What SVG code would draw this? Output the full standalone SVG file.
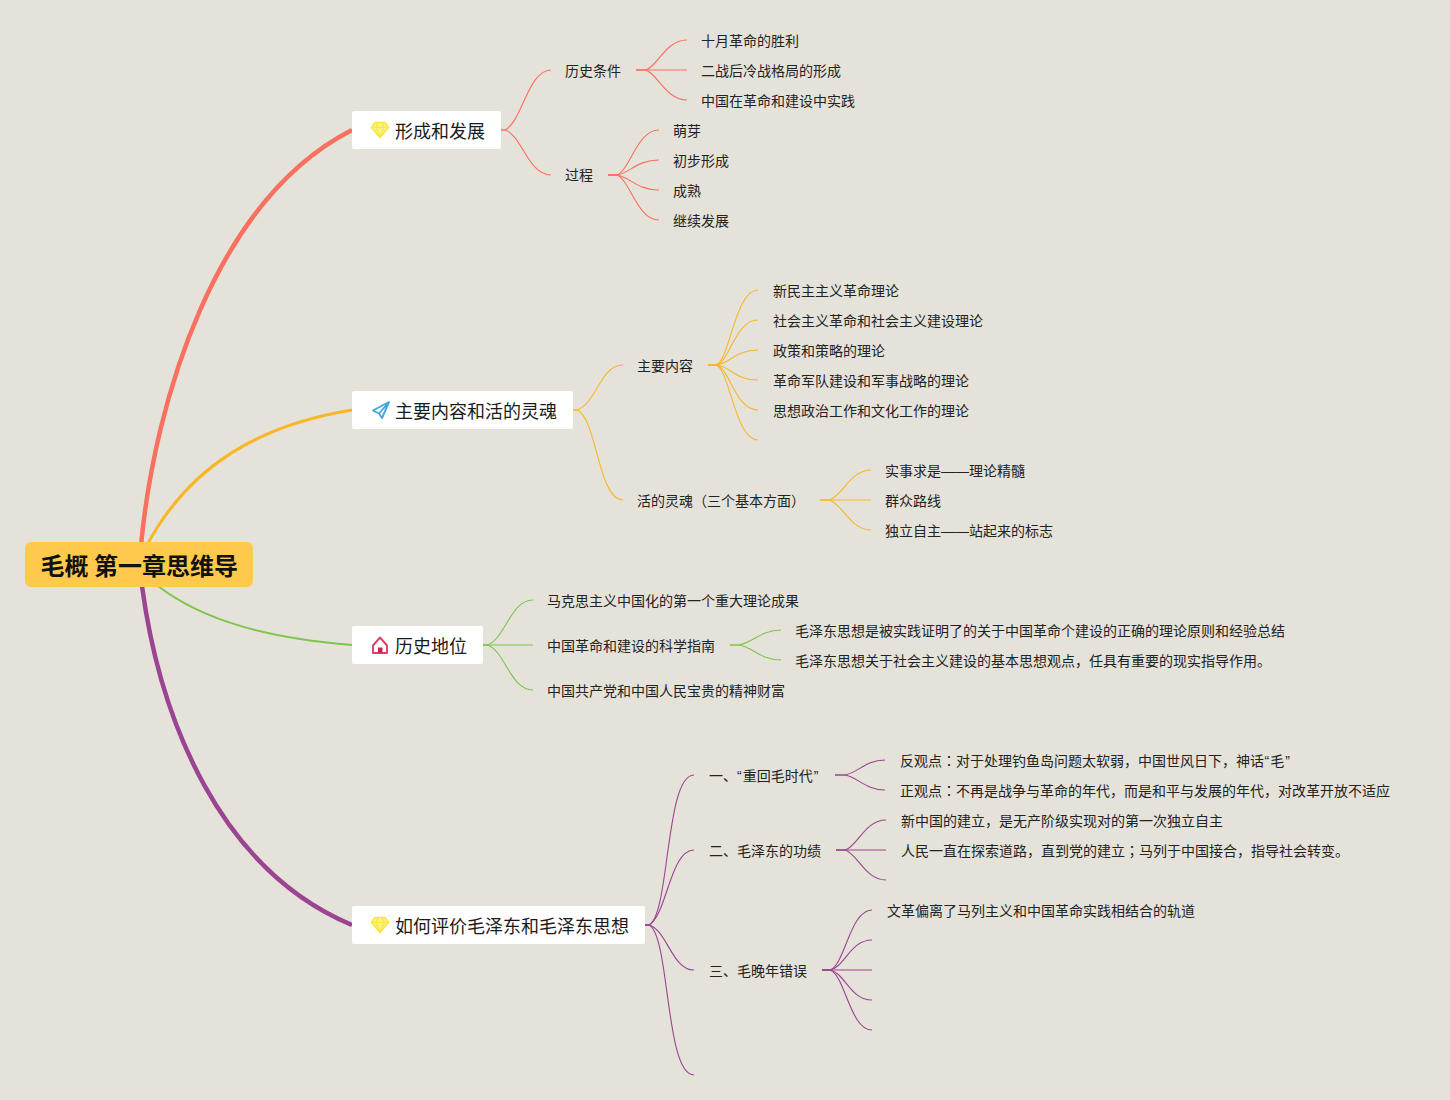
<svg xmlns="http://www.w3.org/2000/svg" width="1450" height="1100" viewBox="0 0 1450 1100">
<style>
text{font-family:"Noto Sans CJK SC","Liberation Sans",sans-serif;fill:#222;font-size:14px}
.m{font-size:18px;fill:#1a1a1a}
.c{font-size:24px;font-weight:700;fill:#111}
.box{fill:#fff}
.l{fill:none;stroke-width:1.1}
.r{stroke:#F8705F}.y{stroke:#F9B628}.g{stroke:#7DC44F}.p{stroke:#9A4492}
.q{font-family:"Liberation Sans",sans-serif}
.t{font-family:"Noto Sans CJK TC",sans-serif}
.gem{fill:#FBF08A;stroke:#F8E73C;stroke-width:1.6;stroke-linejoin:round}
.gemf{fill:none;stroke:#F8E73C;stroke-width:1.1}
</style>
<rect width="1450" height="1100" fill="#E5E2DA"/>
<g id="connectors">
<path d="M141 545C155 400 215 200 352 130" fill="none" stroke="#F8705F" stroke-width="4.5"/>
<path d="M147 545C190 465 260 425 352 410" fill="none" stroke="#F9B628" stroke-width="3"/>
<path d="M158 586C205 622 270 638 352 645" fill="none" stroke="#7DC44F" stroke-width="2"/>
<path d="M142 586C160 720 220 870 352 925" fill="none" stroke="#9A4492" stroke-width="4.5"/>
<g class="l r">
<path d="M501 130H505C522 122 528 70 551 70"/><path d="M501 130H505C522 135 528 175 551 175"/>
<path d="M636 70H645C657 68 665 40 687 40"/><path d="M636 70H687"/><path d="M636 70H645C657 72 665 100 687 100"/>
<path d="M608 175H617C630 170 637 130 659 130"/><path d="M608 175H617C630 173 637 160 659 160"/><path d="M608 175H617C630 177 637 190 659 190"/><path d="M608 175H617C630 180 637 220 659 220"/>
</g>
<g class="l y">
<path d="M573 410H577C597 403 600 365 623 365"/><path d="M573 410H577C597 418 598 500 623 500"/>
<path d="M708 365H716C730 360 735 290 758 290"/><path d="M708 365H716C730 362 735 320 758 320"/><path d="M708 365H716C730 364 735 350 758 350"/><path d="M708 365H716C730 366 735 380 758 380"/><path d="M708 365H716C730 368 735 410 758 410"/><path d="M708 365H716C730 370 735 440 758 440"/>
<path d="M820 500H829C842 497 850 470 871 470"/><path d="M820 500H871"/><path d="M820 500H829C842 503 850 530 871 530"/>
</g>
<g class="l g">
<path d="M483 645H487C505 640 510 600 533 600"/><path d="M483 645H533"/><path d="M483 645H487C505 650 510 690 533 690"/>
<path d="M730 645H738C752 644 760 630 781 630"/><path d="M730 645H738C752 646 760 660 781 660"/>
</g>
<g class="l p">
<path d="M645 925H649C670 915 665 775 694 775"/><path d="M645 925H649C667 915 670 850 694 850"/><path d="M645 925H649C667 930 672 970 694 970"/><path d="M645 925H649C670 935 665 1075 694 1075"/>
<path d="M835 775H844C857 774 865 760 885 760"/><path d="M835 775H844C857 776 865 790 885 790"/>
<path d="M836 850H845C857 847 865 820 886 820"/><path d="M836 850H886"/><path d="M836 850H845C857 853 865 880 886 880"/>
<path d="M822 970H830C845 965 850 910 872 910"/><path d="M822 970H830C845 967 850 940 872 940"/><path d="M822 970H872"/><path d="M822 970H830C845 973 850 1000 872 1000"/><path d="M822 970H830C845 975 850 1030 872 1030"/>
</g>
</g>
<g id="root"><rect x="25" y="542" width="228" height="45" rx="6" fill="#FFC94D"/><text class="c" x="40.500" y="575">毛概 第一章思维导</text></g>
<g id="n1"><rect class="box" x="352" y="111" width="149" height="38" rx="2"/>
<path class="gem" d="M375 122.500H385L388.500 127.500L380 137.500L371.500 127.500Z"/><path class="gemf" d="M372 127.500H388M376 127.500L380 137L384 127.500M376 127.500L378 123M384 127.500L382 123"/>
<text class="m" x="395" y="138">形成和发展</text></g>
<g id="n2"><rect class="box" x="352" y="391" width="221" height="38" rx="2"/>
<path d="M389 402L373 410.500L379 413.500L382 418L389 402ZM389 402L379 413.500" fill="none" stroke="#45A5DF" stroke-width="1.9" stroke-linejoin="round"/>
<text class="m" x="395" y="418">主要内容和活的灵魂</text></g>
<g id="n3"><rect class="box" x="352" y="626" width="131" height="38" rx="2"/>
<path d="M373 645.500L380 637.500L387 645.500V653H373Z" fill="none" stroke="#DB3F6C" stroke-width="1.9" stroke-linejoin="round"/><rect x="378" y="647.500" width="4.500" height="5.500" fill="#D4234F"/>
<text class="m" x="395" y="653">历史地位</text></g>
<g id="n4"><rect class="box" x="352" y="906" width="293" height="38" rx="2"/>
<path class="gem" d="M375 917.500H385L388.500 922.500L380 932.500L371.500 922.500Z"/><path class="gemf" d="M372 922.500H388M376 922.500L380 932L384 922.500M376 922.500L378 918M384 922.500L382 918"/>
<text class="m" x="395" y="933">如何评价毛泽东和毛泽东思想</text></g>
<g id="labels">
<text x="565" y="76">历史条件</text><text x="701" y="46">十月革命的胜利</text><text x="701" y="76">二战后冷战格局的形成</text><text x="701" y="106">中国在革命和建设中实践</text>
<text x="565" y="180">过程</text><text x="673" y="136">萌芽</text><text x="673" y="166">初步形成</text><text x="673" y="196">成熟</text><text x="673" y="226">继续发展</text>
<text x="637" y="371">主要内容</text><text x="773" y="296">新民主主义革命理论</text><text x="773" y="326">社会主义革命和社会主义建设理论</text><text x="773" y="356">政策和策略的理论</text><text x="773" y="386">革命军队建设和军事战略的理论</text><text x="773" y="416">思想政治工作和文化工作的理论</text>
<text x="637" y="506">活的灵魂（三个基本方面）</text><text x="885" y="476">实事求是<tspan class="q">——</tspan>理论精髓</text><text x="885" y="506">群众路线</text><text x="885" y="536">独立自主<tspan class="q">——</tspan>站起来的标志</text>
<text x="547" y="606">马克思主义中国化的第一个重大理论成果</text><text x="547" y="651">中国革命和建设的科学指南</text><text x="547" y="696">中国共产党和中国人民宝贵的精神财富</text>
<text x="795" y="636">毛泽东思想是被实践证明了的关于中国革命个建设的正确的理论原则和经验总结</text><text x="795" y="666">毛泽东思想关于社会主义建设的基本思想观点，任具有重要的现实指导作用。</text>
<text x="709" y="781">一、<tspan class="q">“</tspan><tspan dx="1">重回毛时代</tspan><tspan class="q" dx="1">”</tspan></text><text x="900" y="766">反观点<tspan class="t">：</tspan>对于处理钓鱼岛问题太软弱，中国世风日下，神话<tspan class="q" dx="0.500">“</tspan><tspan dx="1">毛</tspan><tspan class="q" dx="1">”</tspan></text><text x="900" y="796">正观点<tspan class="t">：</tspan>不再是战争与革命的年代，而是和平与发展的年代，对改革开放不适应</text>
<text x="709" y="856">二、毛泽东的功绩</text><text x="901" y="826">新中国的建立，是无产阶级实现对的第一次独立自主</text><text x="901" y="856">人民一直在探索道路，直到党的建立<tspan class="t">；</tspan>马列于中国接合，指导社会转变。</text>
<text x="709" y="976">三、毛晚年错误</text><text x="887" y="916">文革偏离了马列主义和中国革命实践相结合的轨道</text>
</g>
</svg>
